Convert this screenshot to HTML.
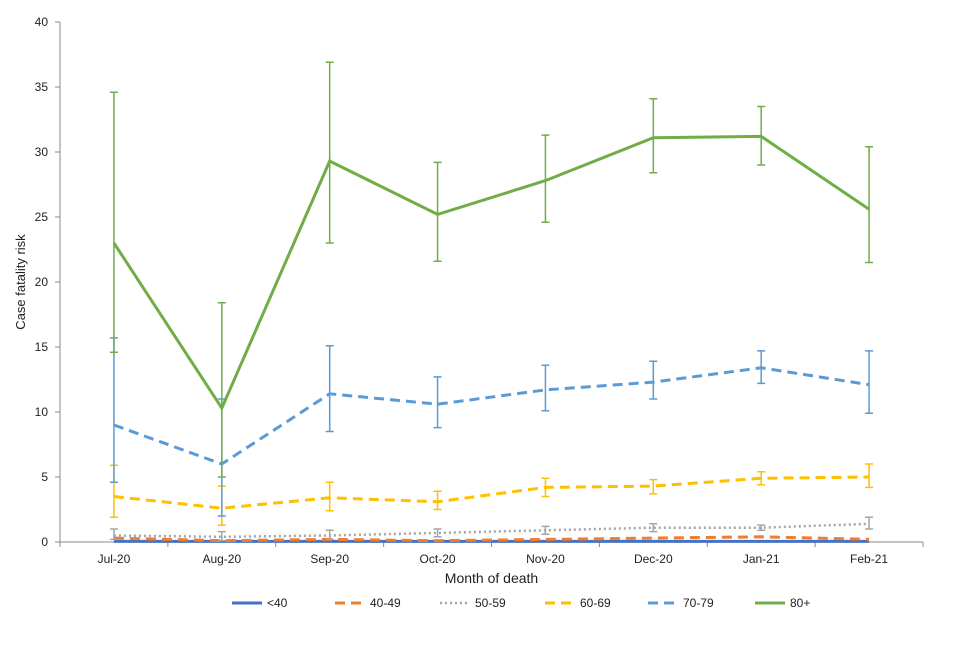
<!DOCTYPE html>
<html><head><meta charset="utf-8"><style>
body{margin:0;background:#fff;font-family:"Liberation Sans",Arial,sans-serif}
svg text{font-family:"Liberation Sans",Arial,sans-serif;fill:#222}
</style></head><body>
<svg id="chart" width="960" height="640"></svg>
<script>
const categories=["Jul-20","Aug-20","Sep-20","Oct-20","Nov-20","Dec-20","Jan-21","Feb-21"];
const yTicks=[0,5,10,15,20,25,30,35,40];
const sLt40=[0.05,0.05,0.05,0.05,0.05,0.05,0.05,0.05];
const s4049=[0.3,0.1,0.2,0.1,0.2,0.3,0.4,0.2];
const s5059=[0.5,0.4,0.5,0.7,0.9,1.1,1.1,1.4];
const s5059Lo=[0.2,0.1,0.2,0.4,0.6,0.8,0.9,1.0];
const s5059Hi=[1.0,0.8,0.9,1.0,1.2,1.4,1.3,1.9];
const s6069=[3.5,2.6,3.4,3.1,4.2,4.3,4.9,5.0];
const s6069Lo=[1.9,1.3,2.4,2.5,3.5,3.7,4.4,4.2];
const s6069Hi=[5.9,4.3,4.6,3.9,4.9,4.8,5.4,6.0];
const s7079=[9.0,6.0,11.4,10.6,11.7,12.3,13.4,12.1];
const s7079Lo=[4.6,2.0,8.5,8.8,10.1,11.0,12.2,9.9];
const s7079Hi=[15.7,11.0,15.1,12.7,13.6,13.9,14.7,14.7];
const s80=[23.0,10.3,29.3,25.2,27.8,31.1,31.2,25.6];
const s80Lo=[14.6,5.0,23.0,21.6,24.6,28.4,29.0,21.5];
const s80Hi=[34.6,18.4,36.9,29.2,31.3,34.1,33.5,30.4];

const L=60,R=923,T=22,B=542;
const x=i=>L+(R-L)/categories.length*(i+0.5);
const y=v=>B-(B-T)*v/40;
const svg=document.getElementById('chart');
const NS="http://www.w3.org/2000/svg";
function mk(tag,attrs,parent){const e=document.createElementNS(NS,tag);for(const k in attrs)e.setAttribute(k,attrs[k]);(parent||svg).appendChild(e);return e;}

let g=mk('line',{x1:L,y1:T,x2:L,y2:B,stroke:'#888'});


g=mk('line',{x1:L,y1:B,x2:R,y2:B,stroke:'#888'});


yTicks.forEach(v=>{
  mk('line',{x1:L-5,y1:y(v),x2:L,y2:y(v),stroke:'#888'});
  const t=mk('text',{x:L-12,y:y(v)+4,'text-anchor':'end','font-size':12});t.textContent=v;
  
  
});
for(let i=0;i<=categories.length;i++){const xx=L+(R-L)/categories.length*i;mk('line',{x1:xx,y1:B,x2:xx,y2:B+5,stroke:'#888'});}
categories.forEach((c,i)=>{
  const t=mk('text',{x:x(i),y:B+21,'text-anchor':'middle','font-size':12});t.textContent=c;
  
  
});
let t=mk('text',{x:(L+R)/2,y:583,'text-anchor':'middle','font-size':14});t.textContent='Month of death';


t=mk('text',{x:0,y:0,'text-anchor':'middle','font-size':13,transform:`translate(25,${(T+B)/2}) rotate(-90)`});t.textContent='Case fatality risk';



const series=[
 {name:'<40',v:sLt40,c:'#4472c4',d:'',w:3},
 {name:'40-49',v:s4049,c:'#ed7d31',d:'10,6',w:3},
 {name:'50-59',v:s5059,lo:s5059Lo,hi:s5059Hi,c:'#a5a5a5',d:'2,3',w:2.5},
 {name:'60-69',v:s6069,lo:s6069Lo,hi:s6069Hi,c:'#ffc000',d:'10,6',w:3},
 {name:'70-79',v:s7079,lo:s7079Lo,hi:s7079Hi,c:'#5b9bd5',d:'10,6',w:3},
 {name:'80+',v:s80,lo:s80Lo,hi:s80Hi,c:'#70ad47',d:'',w:3}
];
series.forEach(s=>{
  if(s.lo){s.v.forEach((v,i)=>{
    const e=mk('path',{d:`M${x(i)},${y(s.lo[i])}V${y(s.hi[i])}M${x(i)-4},${y(s.lo[i])}h8M${x(i)-4},${y(s.hi[i])}h8`,stroke:s.c,'stroke-width':1.5,fill:'none'});
    
    
  });}
  const p=mk('polyline',{points:s.v.map((v,i)=>x(i)+','+y(v)).join(' '),fill:'none',stroke:s.c,'stroke-width':s.w,'stroke-dasharray':s.d});
  
  
});
const lx=[232,335,440,545,648,755];
series.forEach((s,i)=>{
  const gg=mk('g',{});
  
  
  mk('line',{x1:lx[i],y1:603,x2:lx[i]+30,y2:603,stroke:s.c,'stroke-width':s.w,'stroke-dasharray':s.d},gg);
  const tt=mk('text',{x:lx[i]+35,y:607,'font-size':12},gg);tt.textContent=s.name;
});
</script>
</body></html>
